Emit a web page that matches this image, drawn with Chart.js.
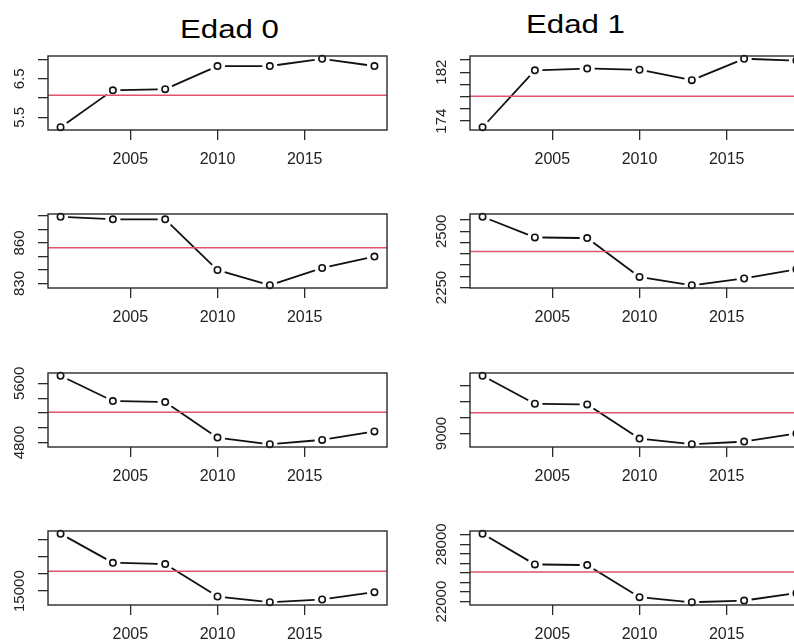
<!DOCTYPE html>
<html><head><meta charset="utf-8">
<script src="https://cdn.jsdelivr.net/npm/chart.js@4"></script>
<style>
html,body{margin:0;padding:0;background:#fff;overflow:hidden;width:794px;height:641px;position:relative;}
.panel{position:absolute;}
.title{position:absolute;font-family:'Liberation Sans',Arial,sans-serif;font-size:26px;line-height:26px;color:#000;transform:scaleX(1.2);transform-origin:0 0;white-space:nowrap;}
</style></head><body>
<div class="title" style="left:180px;top:16px">Edad 0</div>
<div class="title" style="left:526px;top:11px">Edad 1</div>
<canvas id="e0r1" class="panel" width="400" height="134" style="left:0;top:41px"></canvas>
<canvas id="e0r2" class="panel" width="400" height="134" style="left:0;top:199px"></canvas>
<canvas id="e0r3" class="panel" width="400" height="134" style="left:0;top:358px"></canvas>
<canvas id="e0r4" class="panel" width="400" height="134" style="left:0;top:516px"></canvas>
<canvas id="e1r1" class="panel" width="400" height="134" style="left:422px;top:41px"></canvas>
<canvas id="e1r2" class="panel" width="400" height="134" style="left:422px;top:199px"></canvas>
<canvas id="e1r3" class="panel" width="400" height="134" style="left:422px;top:358px"></canvas>
<canvas id="e1r4" class="panel" width="400" height="134" style="left:422px;top:516px"></canvas>
<script>
// ---- data ----
const years = [2001, 2004, 2007, 2010, 2013, 2016, 2019];
const xTicks = [2005, 2010, 2015];

// Edad 0
const edad0_r1 = [5.24, 6.20, 6.23, 6.83, 6.83, 7.02, 6.83];
const edad0_r2 = [879.5, 877.6, 877.6, 840, 828.7, 841.5, 850];
const edad0_r3 = [5704, 5362, 5348, 4868, 4778, 4837, 4951];
const edad0_r4 = [18355, 16657, 16580, 14686, 14349, 14509, 14941];
const edad0_ref = [6.07, 856.6, 5210, 16166];

// Edad 1
const edad1_r1 = [173.0, 182.3, 182.6, 182.4, 180.7, 184.2, 183.9];
const edad1_r2 = [2565, 2473, 2470, 2297, 2260, 2290, 2331];
const edad1_r3 = [10819, 9938, 9916, 8840, 8662, 8745, 9000];
const edad1_r4 = [29105, 25892, 25817, 22456, 21926, 22106, 22880];
const edad1_ref = [178.05, 2410, 9651, 25107];

// y-axis tick marks and the labels that are printed
const edad0_yTicks = [[5.5, 6, 6.5, 7], [830, 840, 850, 860, 870, 880], [4800, 5000, 5200, 5400, 5600], [15000, 16000, 17000, 18000]];
const edad0_yLabels = [[5.5, 6.5], [830, 860], [4800, 5600], [15000]];
const edad1_yTicks = [[174, 176, 178, 180, 182, 184], [2250, 2300, 2350, 2400, 2450, 2500, 2550], [9000, 9500, 10000, 10500], [22000, 23000, 24000, 25000, 26000, 27000, 28000, 29000]];
const edad1_yLabels = [[174, 182], [2250, 2500], [9000], [22000, 28000]];

// ---- drawing ----
const FONT = "'Liberation Sans', Arial, Helvetica, sans-serif";
const GAP = 7.5;   // R type = "b": each segment stops short of the points

function gapDash(c) {
  const L = Math.hypot(c.p1.x - c.p0.x, c.p1.y - c.p0.y);
  const g = Math.min(GAP, L / 2 - 0.5);
  return [0, g, Math.max(L - 2 * g, 0), 5000 + c.p0DataIndex];
}

function makeDeco(labelVals) {
  return {
    id: 'panelDeco',
    afterDatasetsDraw(chart) {
      const ctx = chart.ctx, a = chart.chartArea, y = chart.scales.y;
      ctx.save();
      ctx.strokeStyle = '#2a2a2a';
      ctx.lineWidth = 1.4;
      ctx.strokeRect(a.left, a.top, a.right - a.left, a.bottom - a.top);
      ctx.fillStyle = '#222';
      ctx.font = '15px ' + FONT;
      ctx.textAlign = 'center';
      ctx.textBaseline = 'middle';
      labelVals.forEach(v => {
        const py = y.getPixelForValue(v);
        ctx.save();
        ctx.translate(a.left - 28, py);
        ctx.rotate(-Math.PI / 2);
        ctx.fillText(String(v), 0, 0);
        ctx.restore();
      });
      ctx.restore();
    }
  };
}

function makePanel(id, values, ref, yTicks, yLabels) {
  const lo = Math.min(...values), hi = Math.max(...values), pad = 0.04 * (hi - lo);
  const x0 = years[0], x1 = years[years.length - 1], xpad = 0.04 * (x1 - x0);
  const xlo = x0 - xpad, xhi = x1 + xpad;
  const pts = years.map((yr, i) => ({ x: yr, y: values[i] }));
  const gridOpts = { drawOnChartArea: false, drawTicks: true, tickLength: 10, color: '#2a2a2a', lineWidth: 1.3 };
  new Chart(document.getElementById(id), {
    type: 'line',
    data: {
      datasets: [
        { data: [{ x: xlo, y: ref }, { x: xhi, y: ref }], borderColor: '#DF536B', borderWidth: 1.5, pointRadius: 0, tension: 0 },
        { data: pts, borderColor: '#111', borderWidth: 1.8, borderCapStyle: 'butt', tension: 0,
          segment: { borderDash: gapDash },
          pointRadius: 3.2, pointBorderWidth: 1.6, pointBorderColor: '#111', pointBackgroundColor: 'rgba(0,0,0,0)', clip: false }
      ]
    },
    options: {
      responsive: false,
      animation: false,
      devicePixelRatio: 1,
      events: [],
      layout: { padding: { top: 15, right: 13, bottom: 0, left: 0 } },
      plugins: { legend: { display: false }, tooltip: { enabled: false } },
      scales: {
        x: {
          type: 'linear', min: xlo, max: xhi,
          afterBuildTicks: s => { s.ticks = xTicks.map(v => ({ value: v })); },
          afterFit: s => { s.height = 45; },
          grid: gridOpts,
          border: { display: false },
          ticks: { padding: 10, color: '#222', font: { family: FONT, size: 16 }, callback: v => String(v), maxRotation: 0, minRotation: 0, autoSkip: false }
        },
        y: {
          type: 'linear', min: lo - pad, max: hi + pad,
          afterBuildTicks: s => { s.ticks = yTicks.map(v => ({ value: v })); },
          afterFit: s => { s.width = 48; },
          grid: gridOpts,
          border: { display: false },
          ticks: { display: false }
        }
      }
    },
    plugins: [makeDeco(yLabels)]
  });
}

const edad0 = [edad0_r1, edad0_r2, edad0_r3, edad0_r4];
const edad1 = [edad1_r1, edad1_r2, edad1_r3, edad1_r4];
for (let r = 0; r < 4; r++) {
  makePanel('e0r' + (r + 1), edad0[r], edad0_ref[r], edad0_yTicks[r], edad0_yLabels[r]);
  makePanel('e1r' + (r + 1), edad1[r], edad1_ref[r], edad1_yTicks[r], edad1_yLabels[r]);
}
</script>
</body></html>
